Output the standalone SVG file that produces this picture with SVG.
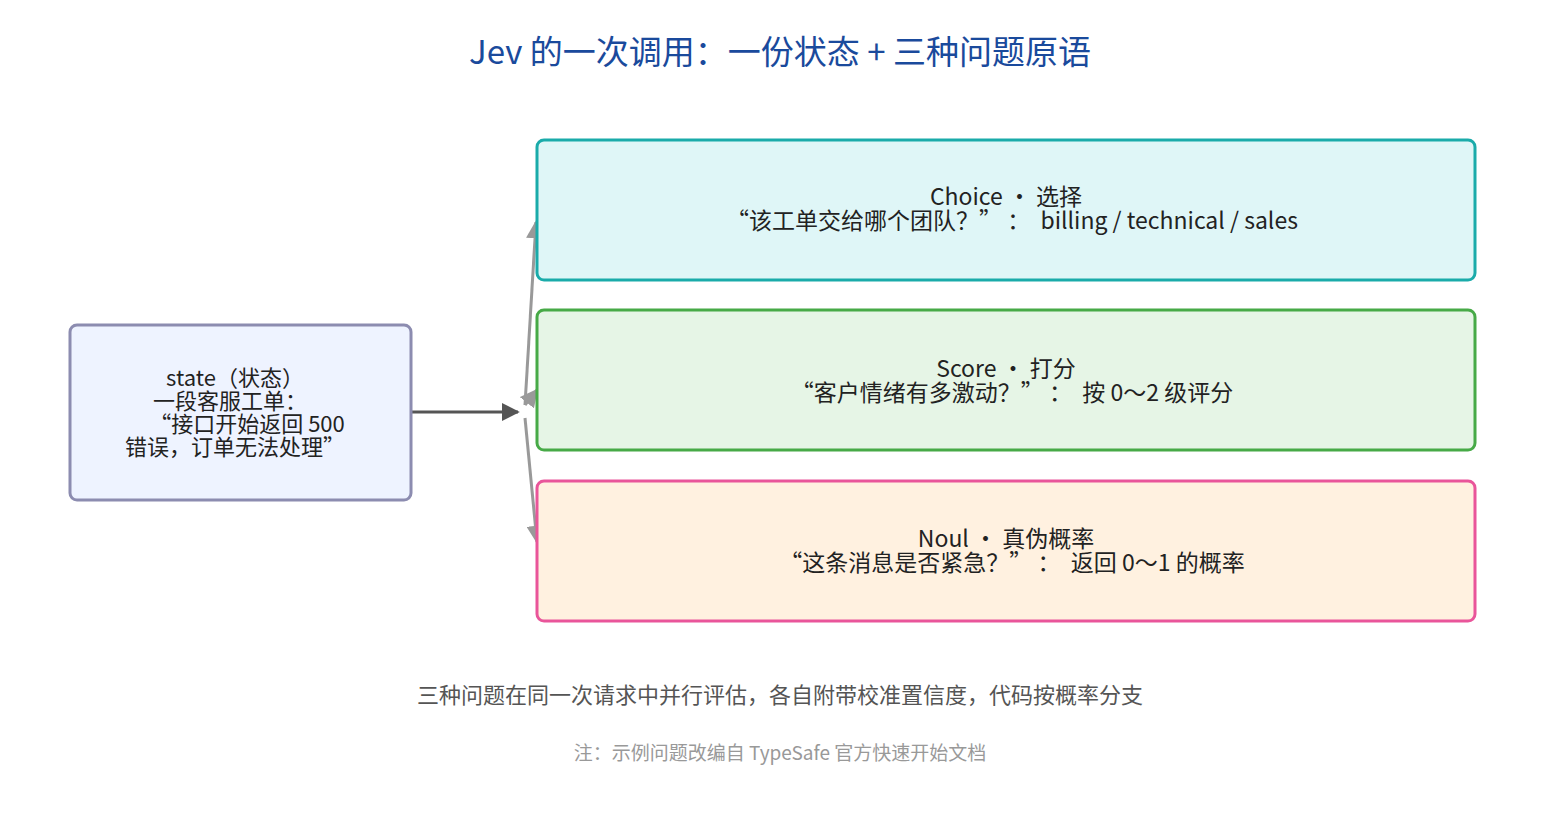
<svg xmlns="http://www.w3.org/2000/svg" width="1560" height="825" viewBox="0 0 1560 825">
<style>
text{font-family:"Noto Sans CJK SC","Noto Sans",sans-serif;fill:#222;text-anchor:middle}
.t{font-size:22px}
.b{font-size:23px}
.box{stroke-width:3}
.c{fill:none;stroke:#999;stroke-width:3}
</style>
<defs>
<marker id="ag" viewBox="0 0 10 10" refX="9" refY="5" markerWidth="6" markerHeight="6" orient="auto"><path d="M0,0L10,5L0,10z" fill="#999"/></marker>
<marker id="ad" viewBox="0 0 10 10" refX="9" refY="5" markerWidth="6" markerHeight="6" orient="auto"><path d="M0,0L10,5L0,10z" fill="#555"/></marker>
</defs>
<rect width="1560" height="825" fill="#fff"/>
<text x="780" y="64" style="font-size:33px;fill:#1a4a9c">Jev 的一次调用：一份状态 + 三种问题原语</text>
<g id="connectors">
<path class="c" d="M412,412H518" style="stroke:#555" marker-end="url(#ad)"/>
<path class="c" d="M525,405L536,222" marker-end="url(#ag)"/>
<path class="c" d="M525,405L537,390" marker-end="url(#ag)"/>
<path class="c" d="M525,418L537,542" marker-end="url(#ag)"/>
</g>
<g id="state">
<rect class="box" x="70" y="325" width="341" height="175" rx="7" fill="#eef3ff" stroke="#8c8cb0"/>
<text class="t" x="235" y="386">state（状态）</text>
<text class="t" x="230" y="409">一段客服工单：</text>
<text class="t" x="247" y="432">“接口开始返回 500</text>
<text class="t" x="235" y="455">错误，订单无法处理”</text>
</g>
<g id="choice">
<rect class="box" x="537" y="140" width="938" height="140" rx="7" fill="#dff6f7" stroke="#1aabaa"/>
<text class="b" x="1006" y="205">Choice · 选择</text>
<text class="b" x="1012" y="229" xml:space="preserve">“该工单交给哪个团队？” ：  billing / technical / sales</text>
</g>
<g id="score">
<rect class="box" x="537" y="310" width="938" height="140" rx="7" fill="#e6f5e6" stroke="#47aa47"/>
<text class="b" x="1006" y="377">Score · 打分</text>
<text class="b" x="1012" y="401" xml:space="preserve">“客户情绪有多激动？” ：  按 0～2 级评分</text>
</g>
<g id="noul">
<rect class="box" x="537" y="481" width="938" height="140" rx="7" fill="#fff1e0" stroke="#e9559a"/>
<text class="b" x="1006" y="547">Noul · 真伪概率</text>
<text class="b" x="1012" y="571" xml:space="preserve">“这条消息是否紧急？” ：  返回 0～1 的概率</text>
</g>
<text x="780" y="703" style="font-size:22px;fill:#555">三种问题在同一次请求中并行评估，各自附带校准置信度，代码按概率分支</text>
<text x="780" y="760" style="font-size:19px;fill:#999">注：示例问题改编自 TypeSafe 官方快速开始文档</text>
</svg>
